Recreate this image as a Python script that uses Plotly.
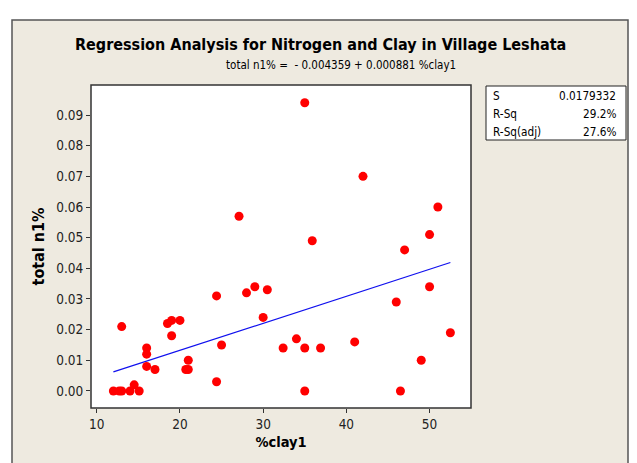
import plotly.graph_objects as go

# Data
clay = [12.0, 12.7, 13.0, 14.0, 14.5, 15.1, 13.0, 16.0, 16.0, 16.0,
        17.0, 18.5, 19.0, 19.0, 20.0, 20.7, 21.0, 21.0, 24.4, 24.4,
        25.0, 27.1, 28.0, 29.0, 30.5, 30.0, 32.4, 34.0, 35.0, 35.0,
        35.0, 35.9, 36.9, 41.0, 42.0, 46.0, 46.5, 47.0, 49.0, 50.0,
        50.0, 51.0, 52.5]
nitrogen = [0.000, 0.000, 0.000, 0.000, 0.002, 0.000, 0.021, 0.014, 0.012, 0.008,
            0.007, 0.022, 0.023, 0.018, 0.023, 0.007, 0.007, 0.010, 0.031, 0.003,
            0.015, 0.057, 0.032, 0.034, 0.033, 0.024, 0.014, 0.017, 0.014, 0.000,
            0.094, 0.049, 0.014, 0.016, 0.070, 0.029, 0.000, 0.046, 0.010, 0.034,
            0.051, 0.060, 0.019]

intercept = -0.004359
slope = 0.000881
stat_names = ["S", "R-Sq", "R-Sq(adj)"]
stat_values = ["0.0179332", "29.2%", "27.6%"]

fit_x = [min(clay), max(clay)]
fit_y = [intercept + slope * v for v in fit_x]

FONT = "DejaVu Sans Condensed, DejaVu Sans, sans-serif"
BEIGE = "#EEEAE0"

# the page body adds an 8px margin, so work in page pixels minus 8
OFF = 8
W, H = 637 - OFF, 463 - OFF
L, R, T, B = 91 - OFF, 471 - OFF, 85 - OFF, 408 - OFF


def px(x):
    return (x - OFF - L) / (R - L)


def py(y):
    return (B - (y - OFF)) / (B - T)


fig = go.Figure()
fig.add_trace(go.Scatter(x=fit_x, y=fit_y, mode="lines",
                         line=dict(color="#1010EE", width=1.2), hoverinfo="skip"))
fig.add_trace(go.Scatter(x=clay, y=nitrogen, mode="markers",
                         marker=dict(color="#FF0000", size=9, line=dict(width=0))))

shapes = [
    # beige frame around the whole graph
    dict(type="rect", xref="paper", yref="paper", layer="below",
         x0=px(12), x1=px(628), y0=py(480), y1=py(20),
         fillcolor=BEIGE, line=dict(color="#555555", width=1.5)),
    # white data region
    dict(type="rect", xref="paper", yref="paper", layer="below",
         x0=0, x1=1, y0=0, y1=1, fillcolor="white",
         line=dict(color="#333333", width=1.5)),
    # stats box
    dict(type="rect", xref="paper", yref="paper",
         x0=px(486), x1=px(626), y0=py(140), y1=py(86),
         fillcolor="white", line=dict(color="#222222", width=1)),
]

annotations = [
    dict(text="<b>Regression Analysis for Nitrogen and Clay in Village Leshata</b>",
         x=px(320), y=py(45), xref="paper", yref="paper", showarrow=False,
         xanchor="center", yanchor="middle",
         font=dict(family=FONT, size=16, color="black")),
    dict(text="total n1% =  - 0.004359 + 0.000881 %clay1",
         x=px(341), y=py(65), xref="paper", yref="paper", showarrow=False,
         xanchor="center", yanchor="middle",
         font=dict(family=FONT, size=11.5, color="black")),
]
for i, (name, val) in enumerate(zip(stat_names, stat_values)):
    yy = py(96 + 17.8 * i)
    annotations.append(dict(text=name, x=px(491), y=yy, xref="paper", yref="paper",
                            xanchor="left", yanchor="middle", showarrow=False,
                            font=dict(family=FONT, size=11.7, color="black")))
    annotations.append(dict(text=val, x=px(618), y=yy, xref="paper", yref="paper",
                            xanchor="right", yanchor="middle", showarrow=False,
                            font=dict(family=FONT, size=11.7, color="black")))

fig.update_layout(
    width=W, height=H,
    margin=dict(l=L, r=W - R, t=T, b=H - B),
    paper_bgcolor="white", plot_bgcolor="rgba(0,0,0,0)",
    showlegend=False,
    shapes=shapes, annotations=annotations,
    font=dict(family=FONT, size=13, color="black"),
    xaxis=dict(range=[9.31, 54.98], tickvals=[10, 20, 30, 40, 50],
               showgrid=False, zeroline=False, ticks="outside", ticklen=4,
               tickcolor="#333333", tickfont=dict(size=13.5, color="#222222"),
               title=dict(text="<b>%clay1</b>", font=dict(size=14.5), standoff=5)),
    yaxis=dict(range=[-0.00556, 0.0998], tickvals=[i / 100 for i in range(10)],
               tickformat=".2f", showgrid=False, zeroline=False,
               ticks="outside", ticklen=4, tickcolor="#333333",
               tickfont=dict(size=13.5, color="#222222"),
               title=dict(text="<b>total n1%</b>", font=dict(size=16), standoff=7)),
)

fig.write_html("out.html")
